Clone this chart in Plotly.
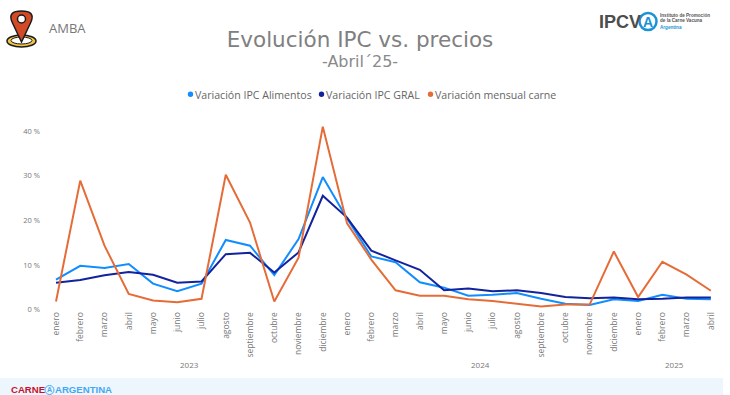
import plotly.graph_objects as go

W, H = 730, 395

months = ["enero", "febrero", "marzo", "abril", "mayo", "junio", "julio", "agosto",
          "septiembre", "octubre", "noviembre", "diciembre"]
month_labels = months + months + months[:4]
years = [2023] * 12 + [2024] * 12 + [2025] * 4
positions = list(range(len(month_labels)))

ipc_alimentos = [6.7, 9.8, 9.3, 10.2, 5.8, 4.1, 5.8, 15.6, 14.3, 7.7, 15.8, 29.7,
                 20.4, 11.9, 10.6, 6.1, 4.9, 3.1, 3.3, 3.7, 2.4, 1.3, 1.0, 2.3,
                 1.9, 3.3, 2.4, 2.3]
ipc_gral = [6.0, 6.6, 7.7, 8.4, 7.8, 6.0, 6.3, 12.4, 12.7, 8.3, 12.8, 25.5,
            20.6, 13.2, 11.0, 8.9, 4.3, 4.7, 4.1, 4.3, 3.7, 2.8, 2.5, 2.7,
            2.3, 2.4, 2.7, 2.7]
carne = [1.8, 28.9, 14.3, 3.5, 2.0, 1.6, 2.4, 30.2, 19.5, 1.8, 11.6, 41.0,
         19.3, 11.2, 4.3, 3.1, 3.1, 2.3, 1.9, 1.3, 0.7, 1.1, 1.1, 13.0,
         2.8, 10.7, 7.8, 4.2]
series = [("Variación IPC Alimentos", ipc_alimentos, "#118DFF"),
          ("Variación IPC GRAL", ipc_gral, "#12239E"),
          ("Variación mensual carne", carne, "#E66C37")]
y_ticks = [0, 10, 20, 30, 40]
legend_dot_x = [190.5, 321.5, 430.5]


def px(x):
    return x / W


def py(y):
    return 1 - y / H


def P(cmds):
    out = []
    for c in cmds:
        if isinstance(c, str):
            out.append(c)
        else:
            out.append(f"{px(c[0]):.5f},{py(c[1]):.5f}")
    return " ".join(out)


def circle(x0, x1, y0, y1, fill, line=None, width=0):
    return dict(type="circle", xref="paper", yref="paper", x0=px(x0), x1=px(x1), y0=py(y1), y1=py(y0),
                fillcolor=fill, line=dict(color=line or fill, width=width), layer="above")


fig = go.Figure()
for name, vals, col in series:
    fig.add_trace(go.Scatter(x=positions, y=vals, mode="lines", name=name, showlegend=False,
                             line=dict(color=col, width=2), cliponaxis=False))

shapes = [
    dict(type="rect", xref="paper", yref="paper", x0=0, x1=px(723), y0=py(395), y1=py(378),
         fillcolor="#EEF6FD", line_width=0, layer="below"),
    # location pin icon
    circle(7, 36, 35, 47, "#F4C542", "#1c1c1c", 1.5),
    circle(11, 32, 37, 44, "#ffffff", "#1c1c1c", 1),
    dict(type="path", xref="paper", yref="paper", layer="above",
         path=P(["M", (21.5, 42), "L", (12.5, 23), "C", (8, 14), (13, 11), (21.5, 11),
                 "C", (30, 11), (35, 14), (30.5, 23), "Z"]),
         fillcolor="#D24A26", line=dict(color="#1c1c1c", width=1.5)),
    circle(17.5, 25.5, 15, 23, "#ffffff", "#1c1c1c", 1.5),
    # IPCV emblem
    circle(639.5, 656.5, 13, 30, "#ffffff", "#1A93D6", 2.5),
    # CARNE ARGENTINA emblem
    circle(45, 54, 385.5, 394.5, "#EEF6FD", "#3FA9F5", 1),
]
for dot_x, (_, _, col) in zip(legend_dot_x, series):
    shapes.append(circle(dot_x - 2.7, dot_x + 2.7, 91.5, 96.9, col))


def text(x, y, s, size, color, family="Open Sans", xanchor="left", yanchor="middle", ref="paper"):
    return dict(x=px(x) if ref == "paper" else x, y=py(y), xref=ref, yref="paper", text=s,
                showarrow=False, xanchor=xanchor, yanchor=yanchor,
                font=dict(size=size, color=color, family=family), borderpad=0, borderwidth=0)


annotations = [
    text(49, 28.5, "AMBA", 13, "#777777"),
    text(360, 61.5, "-Abril´25-", 16, "#8a8a8a", family="DejaVu Sans", xanchor="center"),
    text(599, 22, "<b>IPCV</b>", 18, "#4d4d4d", family="Liberation Sans"),
    text(648, 22, "<b>A</b>", 14, "#1A93D6", family="Liberation Sans", xanchor="center"),
    text(660, 15.5, "<b>Instituto de Promoción</b>", 4.6, "#555555", family="Liberation Sans"),
    text(660, 21, "<b>de la Carne Vacuna</b>", 4.6, "#555555", family="Liberation Sans"),
    text(660, 27, "<b>Argentina</b>", 4.6, "#1A93D6", family="Liberation Sans"),
    text(11, 389.5, "<b>CARNE</b>", 9.6, "#C8102E", family="Liberation Sans"),
    text(49.5, 389.8, "<b>A</b>", 7, "#3FA9F5", family="Liberation Sans", xanchor="center"),
    text(55, 389.5, "<b>ARGENTINA</b>", 9.6, "#3FA9F5", family="Liberation Sans"),
]
for dot_x, (name, _, _) in zip(legend_dot_x, series):
    annotations.append(text(dot_x + 4.5, 95, name, 10.6, "#666666"))
for yr in sorted(set(years)):
    idx = [p for p, v in zip(positions, years) if v == yr]
    annotations.append(text((idx[0] + idx[-1]) / 2, 364, str(yr), 8, "#777777", xanchor="center", ref="x"))

x_left, x_right = 43.87, 723
y_top, y_bottom = 120, 309.5

fig.update_layout(
    width=W, height=H, autosize=False,
    margin=dict(l=0, r=0, t=0, b=0),
    paper_bgcolor="white", plot_bgcolor="white", showlegend=False,
    title=dict(text="Evolución IPC vs. precios", x=px(360), xanchor="center", xref="paper",
               y=py(39), yanchor="middle", yref="paper",
               font=dict(size=21.5, color="#808080", family="DejaVu Sans")),
    xaxis=dict(domain=[px(x_left), px(x_right)], range=[-0.5, len(positions) - 0.5], automargin=False,
               tickmode="array", tickvals=positions, ticktext=month_labels, tickangle=-90,
               ticklen=0, showgrid=False, zeroline=False, showline=False,
               tickfont=dict(size=8.5, color="#777777", family="Open Sans")),
    yaxis=dict(domain=[py(y_bottom), py(y_top)], range=[0, (y_bottom - y_top) / 4.46], automargin=False,
               tickmode="array", tickvals=y_ticks, ticktext=[f"{v} %" for v in y_ticks],
               ticklen=0, ticklabelstandoff=3, showgrid=False, zeroline=False, showline=False,
               tickfont=dict(size=7.5, color="#777777", family="Open Sans")),
    shapes=shapes, annotations=annotations,
)

fig.write_html("out.html", config={"displayModeBar": False}, default_width=W, default_height=H,
               post_script="document.documentElement.style.overflow='hidden';document.body.style.margin='0';document.body.style.overflow='hidden';window.scrollTo(0,0);")
